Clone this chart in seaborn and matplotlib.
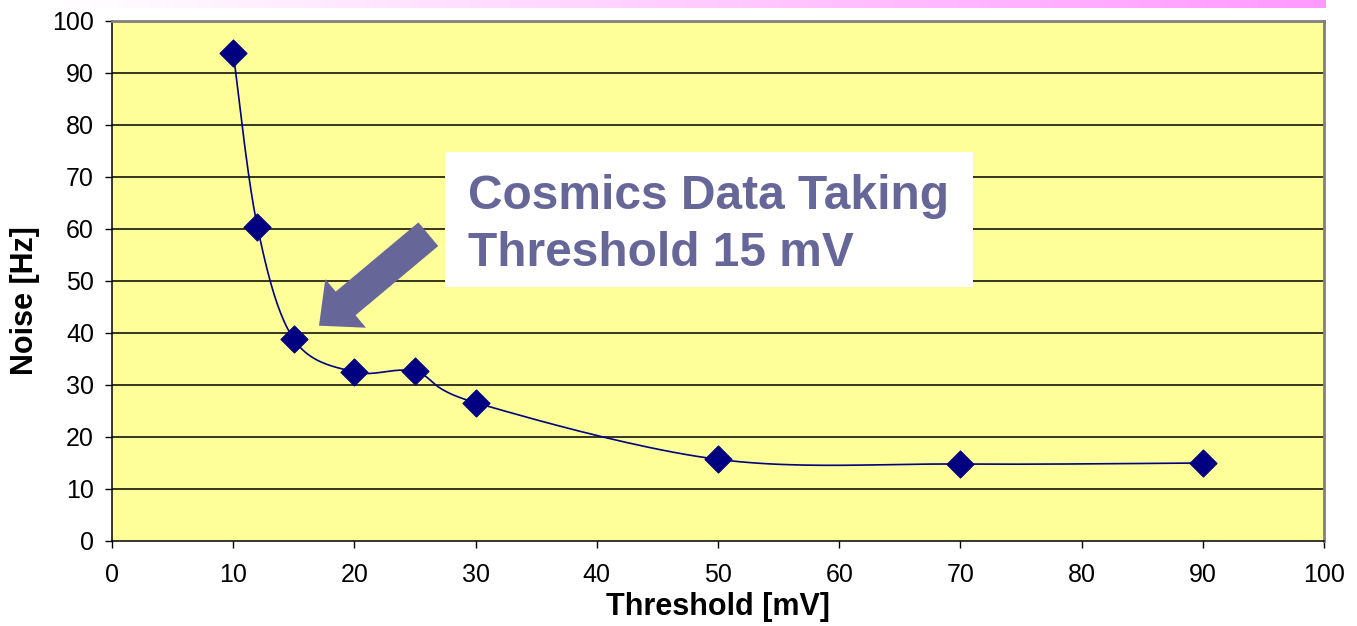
import numpy as np
import pandas as pd
import matplotlib
matplotlib.use("Agg")
import matplotlib.pyplot as plt
from matplotlib.colors import LinearSegmentedColormap
from matplotlib.patches import Rectangle
import seaborn as sns

# Noise rate measured at each discriminator threshold
threshold_mv = [10, 12, 15, 20, 25, 30, 50, 70, 90]
noise_hz = [93.9, 60.4, 38.8, 32.5, 32.6, 26.6, 15.7, 14.8, 15.0]

x_ticks = list(range(0, 101, 10))
y_ticks = list(range(0, 101, 10))

note_lines = ["Cosmics Data Taking", "Threshold 15 mV"]

NAVY = "#000080"
SLATE = "#666699"
PLOT_BG = "#FFFF99"


def smooth_curve(xs, ys, steps=24):
    """Bezier smoothing through every point (control points from neighbours)."""
    pts = np.column_stack([xs, ys]).astype(float)
    n = len(pts)
    out = [pts[0]]
    for i in range(n - 1):
        p0 = pts[max(i - 1, 0)]
        p1 = pts[i]
        p2 = pts[i + 1]
        p3 = pts[min(i + 2, n - 1)]
        c1 = p1 + (p2 - p0) / 6.0
        c2 = p2 - (p3 - p1) / 6.0
        t = np.linspace(0, 1, steps)[1:, None]
        seg = ((1 - t) ** 3) * p1 + 3 * ((1 - t) ** 2) * t * c1 \
            + 3 * (1 - t) * (t ** 2) * c2 + (t ** 3) * p2
        out.extend(seg)
    out = np.array(out)
    return out[:, 0], out[:, 1]


sns.set_theme(style="white")
plt.rcParams["font.family"] = ["Liberation Sans", "DejaVu Sans"]

W, H = 1357, 626
fig = plt.figure(figsize=(W / 100, H / 100), dpi=100)
fig.patch.set_facecolor("white")

# Decorative gradient strip along the top edge
strip = fig.add_axes([60 / W, 1 - 8 / H, (1326 - 60) / W, 8 / H])
grad_cmap = LinearSegmentedColormap.from_list("strip", ["#FFFFFF", "#FFCCFF", "#FF99FF"])
strip.imshow(np.linspace(0, 1, 256)[None, :], aspect="auto", cmap=grad_cmap)
strip.set_axis_off()

ax = fig.add_axes([112 / W, 1 - 541 / H, 1212 / W, 520 / H])
ax.set_facecolor(PLOT_BG)

df = pd.DataFrame({"threshold": threshold_mv, "noise": noise_hz})
cx, cy = smooth_curve(df["threshold"].values, df["noise"].values)
curve = pd.DataFrame({"threshold": cx, "noise": cy})

sns.lineplot(data=curve, x="threshold", y="noise", ax=ax, color=NAVY,
             linewidth=1.2, sort=False, estimator=None, zorder=3)
sns.scatterplot(data=df, x="threshold", y="noise", ax=ax, marker="D",
                s=190, color=NAVY, edgecolor=NAVY, linewidth=0.8, zorder=4)

ax.set_xlim(0, 100)
ax.set_ylim(0, 100)
ax.set_xticks(x_ticks)
ax.set_yticks(y_ticks)
ax.set_xticklabels([str(v) for v in x_ticks], fontsize=18, color="black")
ax.set_yticklabels([str(v) for v in y_ticks], fontsize=18, color="black")
ax.tick_params(axis="x", direction="out", length=5, width=1, color="black",
               labelcolor="black", pad=11, bottom=True)
ax.tick_params(axis="y", direction="out", length=5, width=1, color="black",
               labelcolor="black", pad=8, left=True)

ax.grid(False)
for yv in y_ticks[1:-1]:
    ax.axhline(yv, color="black", linewidth=1.1, zorder=1)

for side in ("left", "bottom"):
    ax.spines[side].set_color("black")
    ax.spines[side].set_linewidth(1.1)
for side in ("top", "right"):
    ax.spines[side].set_color("#808080")
    ax.spines[side].set_linewidth(2.0)

ax.set_xlabel("Threshold [mV]", fontsize=22, fontweight="bold", color="black",
              va="center")
ax.set_ylabel("Noise [Hz]", fontsize=22, fontweight="bold", color="black",
              va="center")
ax.xaxis.set_label_coords(0.5, (541 - 607) / 520)
ax.yaxis.set_label_coords((25 - 112) / 1212, (541 - 301) / 520)

# Callout box with arrow pointing at the operating threshold
ax.add_patch(Rectangle((0.2748, 0.4885), 0.7104 - 0.2748, 0.748 - 0.4885,
                       transform=ax.transAxes, facecolor="white",
                       edgecolor="none", zorder=5))
ax.text(0.2937, (541 - 209) / 520, note_lines[0], transform=ax.transAxes,
        fontsize=34.5, fontweight="bold", color=SLATE, ha="left",
        va="baseline", zorder=6)
ax.text(0.2937, (541 - 266) / 520, note_lines[1], transform=ax.transAxes,
        fontsize=34.5, fontweight="bold", color=SLATE, ha="left",
        va="baseline", zorder=6)

ax.annotate("", xy=(17.08, 41.4), xytext=(26.1, 59.0),
            arrowprops=dict(arrowstyle="simple,head_length=25,head_width=45.6,tail_width=22.2",
                            mutation_scale=1, facecolor=SLATE, edgecolor="none",
                            shrinkA=0, shrinkB=0),
            zorder=6)

fig.savefig("out.png", dpi=100, facecolor="white")
